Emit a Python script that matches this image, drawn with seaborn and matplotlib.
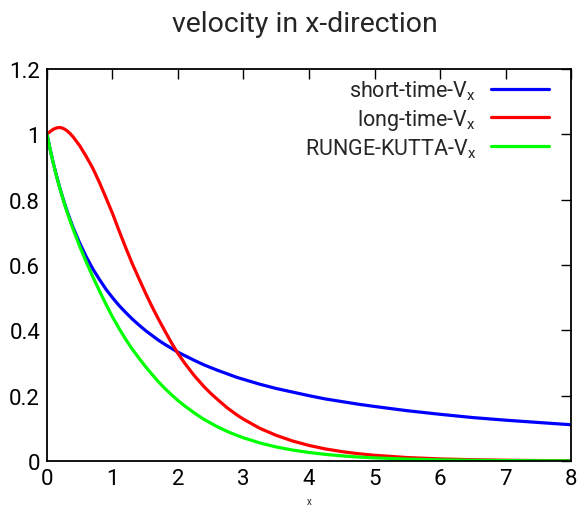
import numpy as np
import pandas as pd
import matplotlib
matplotlib.use("Agg")
import matplotlib.pyplot as plt
import seaborn as sns

# ---- data ----
x_vals = [0.0, 0.05, 0.1, 0.15, 0.2, 0.25, 0.3, 0.35, 0.4,
          0.5, 0.6, 0.7, 0.8, 0.9, 1.0,
          1.1, 1.2, 1.3, 1.4, 1.5, 1.6, 1.7, 1.8, 1.9, 2.0,
          2.1, 2.25, 2.4, 2.5, 2.6, 2.75, 2.9, 3.0,
          3.25, 3.5, 3.75, 4.0, 4.25, 4.5, 4.75, 5.0,
          5.5, 6.0, 6.5, 7.0, 7.5, 8.0]
short_time = [1.0, 0.952, 0.909, 0.870, 0.833, 0.800, 0.769, 0.741, 0.714,
              0.667, 0.625, 0.588, 0.556, 0.526, 0.5,
              0.476, 0.455, 0.435, 0.417, 0.4, 0.385, 0.370, 0.357, 0.345, 0.333,
              0.323, 0.308, 0.294, 0.286, 0.278, 0.267, 0.256, 0.25,
              0.235, 0.222, 0.211, 0.2, 0.190, 0.182, 0.174, 0.167,
              0.154, 0.143, 0.133, 0.125, 0.118, 0.111]
long_time = [1.0, 1.009, 1.016, 1.020, 1.021, 1.018, 1.012, 1.003, 0.992,
             0.965, 0.932, 0.896, 0.853, 0.806, 0.758,
             0.705, 0.654, 0.605, 0.560, 0.516, 0.474, 0.435, 0.398, 0.362, 0.329,
             0.300, 0.261, 0.227, 0.207, 0.189, 0.163, 0.141, 0.128,
             0.100, 0.0785, 0.0612, 0.0477, 0.0370, 0.0288, 0.0224, 0.0175,
             0.0106, 0.0064, 0.0039, 0.0024, 0.0014, 0.0009]
runge_kutta = [1.0, 0.952, 0.908, 0.868, 0.832, 0.798, 0.766, 0.737, 0.709,
               0.657, 0.609, 0.564, 0.521, 0.480, 0.441,
               0.406, 0.373, 0.343, 0.316, 0.290, 0.266, 0.243, 0.222, 0.203, 0.185,
               0.169, 0.147, 0.127, 0.116, 0.105, 0.0907, 0.0783, 0.071,
               0.0553, 0.043, 0.0335, 0.0261, 0.0203, 0.0158, 0.0123, 0.0096,
               0.0058, 0.0035, 0.0021, 0.0013, 0.0008, 0.0005]
series_names = [r"short-time-V$_{\mathrm{x}}$", r"long-time-V$_{\mathrm{x}}$",
                r"RUNGE-KUTTA-V$_{\mathrm{x}}$"]
series_colors = ["#0000ff", "#ff0000", "#00ff00"]
x_ticks = [0, 1, 2, 3, 4, 5, 6, 7, 8]
y_ticks = [0, 0.2, 0.4, 0.6, 0.8, 1.0, 1.2]
y_tick_labels = ["0", "0.2", "0.4", "0.6", "0.8", "1", "1.2"]

frames = []
for name, vals in zip(series_names, [short_time, long_time, runge_kutta]):
    frames.append(pd.DataFrame({"x": x_vals, "v": vals, "series": name}))
df = pd.concat(frames, ignore_index=True)

sns.set_style("white")
plt.rcParams["font.family"] = ["Roboto", "DejaVu Sans"]
plt.rcParams["mathtext.fontset"] = "custom"
plt.rcParams["mathtext.rm"] = "Roboto"
plt.rcParams["mathtext.it"] = "Roboto"

fig = plt.figure(figsize=(5.78, 5.10), dpi=100)
ax = fig.add_axes([0.0813, 0.0941, 0.9879 - 0.0813, 0.8627 - 0.0941])

sns.lineplot(data=df, x="x", y="v", hue="series", palette=series_colors,
             linewidth=2.3, ax=ax, sort=False, estimator=None)

ax.set_xlim(0, 8)
ax.set_ylim(0, 1.2)
ax.set_xticks(x_ticks)
ax.set_xticklabels([str(t) for t in x_ticks])
ax.set_yticks(y_ticks)
ax.set_yticklabels(y_tick_labels)
ax.tick_params(direction="in", length=7, width=1, top=True, right=True,
               labelsize=16, colors="black", pad=5)
for s in ax.spines.values():
    s.set_color("black")
    s.set_linewidth(1.3)

ax.set_xlabel("x", fontsize=7)
ax.xaxis.set_label_coords(0.5, -0.088)
ax.set_ylabel("")
fig.text(0.528, 0.952, "velocity in x-direction", ha="center", va="center", fontsize=20.5)

leg = ax.legend(loc="upper right", frameon=False, markerfirst=False, fontsize=15.5,
                handlelength=2.7, handletextpad=0.7, labelspacing=0.2,
                borderaxespad=0.0, bbox_to_anchor=(0.975, 0.997))
for t in leg.get_texts():
    t.set_ha("right")

fig.savefig("out.png", dpi=100)
